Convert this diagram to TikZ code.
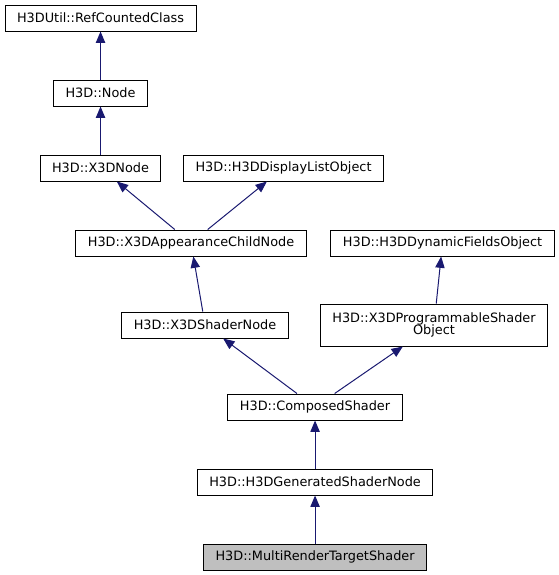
\documentclass[tikz,border=0pt]{standalone}
\usepackage{fontspec}
\setmainfont{DejaVu Sans}
\usetikzlibrary{positioning,arrows.meta}
\definecolor{edgeblue}{HTML}{191970}
\definecolor{currentgray}{HTML}{BFBFBF}
\tikzstyle{classbox} = [rectangle, minimum height=19.5pt, inner xsep=9pt, inner ysep=0pt, text centered, draw=black, line width=0.75pt, fill=white, font=\fontsize{9.65pt}{11pt}\selectfont]
\tikzstyle{current} = [classbox, fill=currentgray]
\tikzstyle{arrow} = [line width=0.75pt, draw=edgeblue, ->, >={Triangle[length=8.5pt,width=7pt]}]

\begin{document}
\begin{tikzpicture}[node distance = 56.25pt, auto]
	\useasboundingbox (0,0) rectangle (419.25pt,-431.25pt);
	% Place nodes
	\node [classbox] (RefCountedClass) at (75.4pt,-13.5pt) {H3DUtil::RefCountedClass};
	\node [classbox, below of=RefCountedClass] (Node) {H3D::Node};
	\node [classbox, below of=Node] (X3DNode) {H3D::X3DNode};
	\node [classbox, below of=Node, xshift = 137.25pt] (H3DDisplayListObject) {H3D::H3DDisplayListObject};
	\node [classbox, below of=X3DNode, xshift = 67.9pt] (X3DAppearanceChildNode) {H3D::X3DAppearanceChildNode};
	\node [classbox, below of=H3DDisplayListObject, xshift = 119.25pt] (H3DDynamicFieldsObject) {H3D::H3DDynamicFieldsObject};
	\node [classbox, below of=X3DAppearanceChildNode, xshift = 10.5pt, yshift = -5.25pt] (X3DShaderNode) {H3D::X3DShaderNode};
	\node [classbox, align=center, minimum height=31.5pt, below of=H3DDynamicFieldsObject, xshift = -6.4pt, yshift = -5.25pt] (X3DProgrammableShaderObject) {H3D::X3DProgrammableShader\\[-1.5pt]Object};
	\node [classbox, below of=X3DShaderNode, xshift = 82.5pt, yshift = -5.25pt] (ComposedShader) {H3D::ComposedShader};
	\node [classbox, below of=ComposedShader] (H3DGeneratedShaderNode) {H3D::H3DGeneratedShaderNode};
	\node [current, below of=H3DGeneratedShaderNode] (MultiRenderTargetShader) {H3D::MultiRenderTargetShader};
	% Draw edges
	\draw [arrow] (Node) -- (RefCountedClass);
	\draw [arrow] (X3DNode) -- (Node);
	\draw [arrow] (X3DAppearanceChildNode) -- (X3DNode);
	\draw [arrow] (X3DAppearanceChildNode) -- (H3DDisplayListObject);
	\draw [arrow] (X3DShaderNode) -- (X3DAppearanceChildNode);
	\draw [arrow] (X3DProgrammableShaderObject) -- (H3DDynamicFieldsObject);
	\draw [arrow] (ComposedShader) -- (X3DShaderNode);
	\draw [arrow] (ComposedShader) -- (X3DProgrammableShaderObject);
	\draw [arrow] (H3DGeneratedShaderNode) -- (ComposedShader);
	\draw [arrow] (MultiRenderTargetShader) -- (H3DGeneratedShaderNode);
\end{tikzpicture}
\end{document}
